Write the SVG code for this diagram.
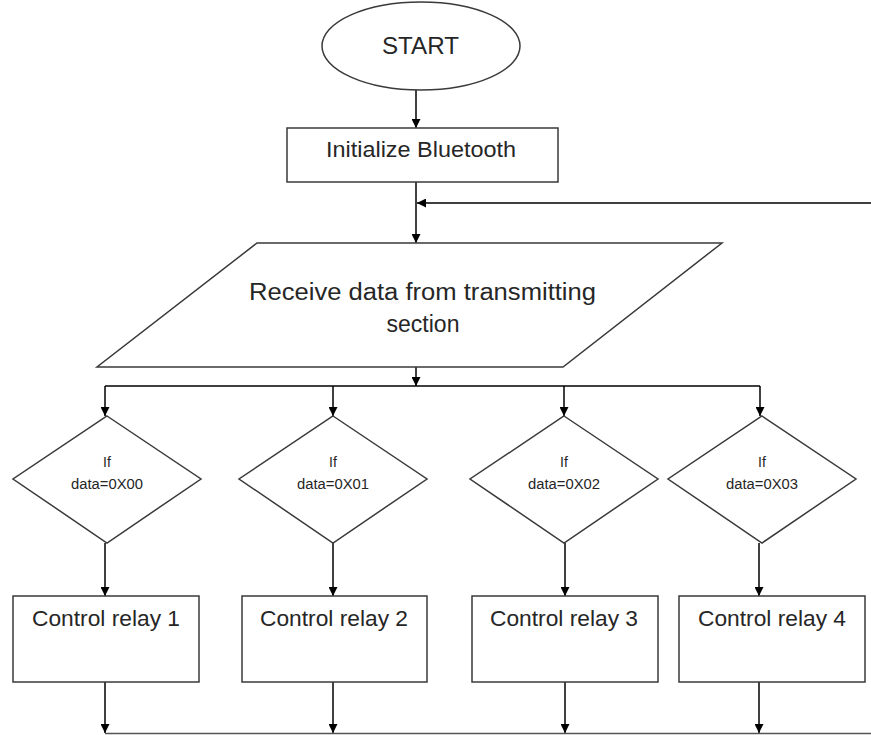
<svg xmlns="http://www.w3.org/2000/svg" width="871" height="735" viewBox="0 0 871 735">
  <defs>
    <marker id="arrow" markerUnits="userSpaceOnUse" markerWidth="9" markerHeight="9" refX="9" refY="4.5" orient="auto">
      <path d="M0,0 L9,4.5 L0,9 z" fill="#000"/>
    </marker>
  </defs>
  <style>
    .shape { fill: #fff; stroke: #3a3a3a; stroke-width: 1.5; }
    .conn { fill: none; stroke: #000; stroke-width: 1.5; }
    .arr { marker-end: url(#arrow); }
    text { font-family: "Liberation Sans", Arial, sans-serif; fill: #262626; text-anchor: middle; }
    .big { font-size: 24px; }
    .mid { font-size: 22px; }
    .rec { font-size: 23px; }
    .small { font-size: 14px; }
  </style>
  <rect width="871" height="735" fill="#fff"/>

  <g id="connectors">
    <line class="conn arr" x1="416" y1="90" x2="416" y2="128"/>
    <line class="conn arr" x1="416" y1="182" x2="416" y2="243"/>
    <line class="conn arr" x1="871" y1="203" x2="417" y2="203"/>
    <line class="conn arr" x1="416" y1="367" x2="416" y2="386"/>
    <line class="conn" x1="105" y1="386" x2="760" y2="386"/>
    <line class="conn arr" x1="105" y1="386" x2="105" y2="416"/>
    <line class="conn arr" x1="333" y1="386" x2="333" y2="416"/>
    <line class="conn arr" x1="564" y1="386" x2="564" y2="416"/>
    <line class="conn arr" x1="760" y1="386" x2="760" y2="416"/>
    <line class="conn arr" x1="105" y1="543" x2="105" y2="596"/>
    <line class="conn arr" x1="333" y1="543" x2="333" y2="596"/>
    <line class="conn arr" x1="565" y1="543" x2="565" y2="596"/>
    <line class="conn arr" x1="759" y1="543" x2="759" y2="596"/>
    <line class="conn arr" x1="105" y1="682" x2="105" y2="733"/>
    <line class="conn arr" x1="333" y1="682" x2="333" y2="733"/>
    <line class="conn arr" x1="565" y1="682" x2="565" y2="733"/>
    <line class="conn arr" x1="759" y1="682" x2="759" y2="733"/>
    <line x1="105" y1="733.5" x2="871" y2="733.5" stroke="#555" stroke-width="1.5"/>
  </g>

  <g id="start">
    <ellipse class="shape" cx="421" cy="46" rx="99" ry="44"/>
    <text class="big" x="420.5" y="54" textLength="77" lengthAdjust="spacingAndGlyphs">START</text>
  </g>

  <g id="init">
    <rect class="shape" x="287" y="128" width="271" height="54"/>
    <text class="mid" x="421" y="157" textLength="190" lengthAdjust="spacingAndGlyphs">Initialize Bluetooth</text>
  </g>

  <g id="receive">
    <polygon class="shape" points="257,243 722,243 563,367 97,367"/>
    <text class="rec" x="422.5" y="300" textLength="347" lengthAdjust="spacingAndGlyphs">Receive data from transmitting</text>
    <text class="rec" x="423" y="332">section</text>
  </g>

  <g id="dec0">
    <polygon class="shape" points="107,416 201,479 107,543 13,479"/>
    <text class="small" x="107" y="467">If</text>
    <text class="small" x="107" y="489" textLength="72" lengthAdjust="spacingAndGlyphs">data=0X00</text>
  </g>
  <g id="dec1">
    <polygon class="shape" points="333,416 427,479 333,543 239,479"/>
    <text class="small" x="333" y="467">If</text>
    <text class="small" x="333" y="489" textLength="72" lengthAdjust="spacingAndGlyphs">data=0X01</text>
  </g>
  <g id="dec2">
    <polygon class="shape" points="564,416 658,479 564,543 470,479"/>
    <text class="small" x="564" y="467">If</text>
    <text class="small" x="564" y="489" textLength="72" lengthAdjust="spacingAndGlyphs">data=0X02</text>
  </g>
  <g id="dec3">
    <polygon class="shape" points="762,416 856,479 762,543 668,479"/>
    <text class="small" x="762" y="467">If</text>
    <text class="small" x="762" y="489" textLength="72" lengthAdjust="spacingAndGlyphs">data=0X03</text>
  </g>

  <g id="relay1">
    <rect class="shape" x="13" y="596" width="186" height="86"/>
    <text class="mid" x="106" y="626" textLength="148" lengthAdjust="spacingAndGlyphs">Control relay 1</text>
  </g>
  <g id="relay2">
    <rect class="shape" x="242" y="596" width="185" height="86"/>
    <text class="mid" x="334" y="626" textLength="148" lengthAdjust="spacingAndGlyphs">Control relay 2</text>
  </g>
  <g id="relay3">
    <rect class="shape" x="472" y="596" width="186" height="86"/>
    <text class="mid" x="564" y="626" textLength="148" lengthAdjust="spacingAndGlyphs">Control relay 3</text>
  </g>
  <g id="relay4">
    <rect class="shape" x="679" y="596" width="186" height="86"/>
    <text class="mid" x="772" y="626" textLength="148" lengthAdjust="spacingAndGlyphs">Control relay 4</text>
  </g>
</svg>
